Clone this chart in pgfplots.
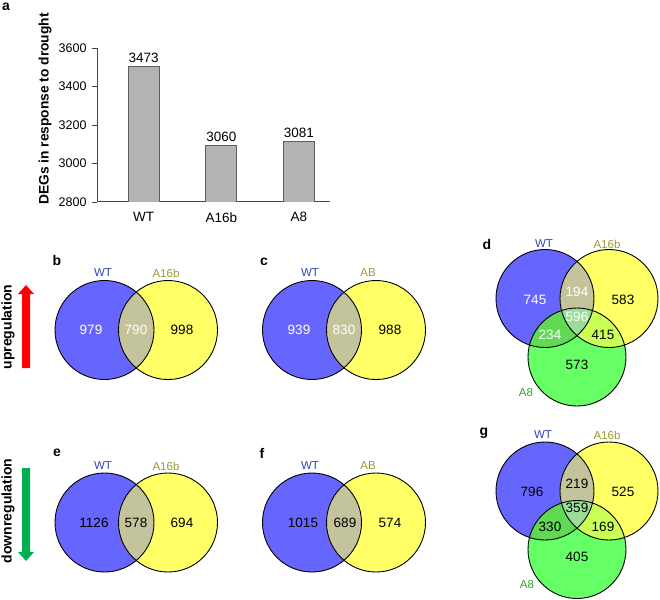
\documentclass[border=0pt]{standalone}
\usepackage{fontspec}
\setmainfont{Liberation Sans}
\usepackage{pgfplots}
\pgfplotsset{compat=1.18}

\definecolor{vb}{HTML}{6666FF}
\definecolor{vy}{HTML}{FFFF66}
\definecolor{vg}{HTML}{66FF66}
\definecolor{vby}{HTML}{C4C49C}
\definecolor{vbg}{HTML}{60DA55}
\definecolor{vyg}{HTML}{CCFF55}
\definecolor{vbyg}{HTML}{99DD99}
\definecolor{lwt}{HTML}{2E45B8}
\definecolor{lab}{HTML}{9A9A2E}
\definecolor{la8}{HTML}{2EA02E}
\definecolor{barfill}{HTML}{B3B3B3}
\definecolor{baredge}{HTML}{5E5E5E}
\definecolor{axgray}{HTML}{454545}
\definecolor{upred}{HTML}{FF0000}
\definecolor{dngreen}{HTML}{00B050}

\tikzset{
  num/.style={font=\fontsize{13.5bp}{15bp}\selectfont},
  setlab/.style={font=\fontsize{11.5bp}{13bp}\selectfont},
  panel/.style={font=\bfseries\fontsize{14bp}{16bp}\selectfont},
  ring/.style={draw=black, line width=0.9bp},
}

% two-set diagram: blue x, yellow x, y
\newcommand{\venntwo}[3]{%
  \fill[vb] (axis cs:#1,#3) circle[radius=49.5bp];
  \fill[vy] (axis cs:#2,#3) circle[radius=49.5bp];
  \begin{scope}
    \clip (axis cs:#1,#3) circle[radius=49.5bp];
    \fill[vby] (axis cs:#2,#3) circle[radius=49.5bp];
  \end{scope}
  \draw[ring] (axis cs:#1,#3) circle[radius=49.5bp];
  \draw[ring] (axis cs:#2,#3) circle[radius=49.5bp];
}
% three-set diagram, shifted down by #1
\newcommand{\vennthree}[1]{%
  \fill[vb] (axis cs:545,298.5+#1) circle[radius=49bp];
  \fill[vy] (axis cs:609,298.5+#1) circle[radius=49bp];
  \fill[vg] (axis cs:577,357+#1) circle[radius=49bp];
  \begin{scope}
    \clip (axis cs:545,298.5+#1) circle[radius=49bp];
    \fill[vby] (axis cs:609,298.5+#1) circle[radius=49bp];
    \fill[vbg] (axis cs:577,357+#1) circle[radius=49bp];
  \end{scope}
  \begin{scope}
    \clip (axis cs:609,298.5+#1) circle[radius=49bp];
    \fill[vyg] (axis cs:577,357+#1) circle[radius=49bp];
  \end{scope}
  \begin{scope}
    \clip (axis cs:545,298.5+#1) circle[radius=49bp];
    \clip (axis cs:609,298.5+#1) circle[radius=49bp];
    \fill[vbyg] (axis cs:577,357+#1) circle[radius=49bp];
  \end{scope}
  \draw[ring] (axis cs:545,298.5+#1) circle[radius=49bp];
  \draw[ring] (axis cs:609,298.5+#1) circle[radius=49bp];
  \draw[ring] (axis cs:577,357+#1) circle[radius=49bp];
}

\begin{document}
\begin{tikzpicture}
\useasboundingbox (0,0) rectangle (660bp,600bp);

% panel a: bar chart
\begin{axis}[
  at={(97bp,398bp)}, anchor=south west,
  scale only axis, width=233bp, height=154bp,
  ybar, bar width=31bp,
  xmin=-0.6, xmax=2.4, ymin=2800, ymax=3600,
  ytick={2800,3000,...,3600},
  xtick={0,1,2}, xticklabels={WT,A16b,A8},
  axis x line*=bottom, axis y line*=left,
  axis line style={axgray, line width=1bp},
  tick align=outside,
  major tick length=5bp,
  ytick style={axgray, line width=0.8bp},
  xtick style={draw=none},
  /pgf/number format/.cd, 1000 sep={}, assume math mode=true, /pgfplots/.cd,
  yticklabel style={font=\fontsize{12.5bp}{14bp}\selectfont, xshift=-2bp},
  xticklabel style={font=\fontsize{13.5bp}{15bp}\selectfont, yshift=-2bp},
  nodes near coords style={font=\fontsize{13.5bp}{15bp}\selectfont},
]
\addplot[fill=barfill, draw=baredge, line width=0.8bp,
  point meta=explicit symbolic, nodes near coords]
  coordinates {(0,3505)[3473] (1,3092)[3060] (2,3113)[3081]};
\end{axis}

% panels b--g: overlay in pixel units
\begin{axis}[
  at={(0,0)}, anchor=south west,
  scale only axis, width=660bp, height=600bp,
  xmin=0, xmax=660, ymin=0, ymax=600, y dir=reverse,
  hide axis, clip=false,
]
\pgfplotsextra{
  \node[panel] at (axis cs:6,7) {a};
  \node[font=\bfseries\fontsize{13.8bp}{15bp}\selectfont, rotate=90] at (axis cs:45,109) {DEGs in response to drought};

  % arrows
  \fill[upred] (axis cs:26,285) -- (axis cs:34,294) -- (axis cs:30,294) -- (axis cs:30,368)
     -- (axis cs:22,368) -- (axis cs:22,294) -- (axis cs:18,294) -- cycle;
  \fill[dngreen] (axis cs:26,561) -- (axis cs:34,552) -- (axis cs:30,552) -- (axis cs:30,468)
     -- (axis cs:22,468) -- (axis cs:22,552) -- (axis cs:18,552) -- cycle;
  \node[font=\bfseries\fontsize{14bp}{16bp}\selectfont, rotate=90] at (axis cs:8,327) {upregulation};
  \node[font=\bfseries\fontsize{14bp}{16bp}\selectfont, rotate=90] at (axis cs:8,511) {downregulation};

  % b
  \venntwo{104.5}{168}{330}
  \node[panel] at (axis cs:57,260) {b};
  \node[setlab, lwt] at (axis cs:103,273) {WT};
  \node[setlab, lab] at (axis cs:166,273) {A16b};
  \node[num, white] at (axis cs:91,330) {979};
  \node[num, white] at (axis cs:136,330) {790};
  \node[num] at (axis cs:182,330) {998};

  % c
  \venntwo{312}{376}{330}
  \node[panel] at (axis cs:264,262) {c};
  \node[setlab, lwt] at (axis cs:310,273) {WT};
  \node[setlab, lab] at (axis cs:368,273) {AB};
  \node[num, white] at (axis cs:299,330) {939};
  \node[num, white] at (axis cs:344,330) {830};
  \node[num] at (axis cs:390,330) {988};

  % d
  \vennthree{0}
  \node[panel] at (axis cs:487,244) {d};
  \node[setlab, lwt] at (axis cs:544,244) {WT};
  \node[setlab, lab] at (axis cs:607,244) {A16b};
  \node[setlab, la8] at (axis cs:526,393) {A8};
  \node[num, white] at (axis cs:535,300) {745};
  \node[num, white] at (axis cs:577,292) {194};
  \node[num] at (axis cs:623,300) {583};
  \node[num, white] at (axis cs:577,317) {596};
  \node[num, white] at (axis cs:550,335) {234};
  \node[num] at (axis cs:603,335) {415};
  \node[num] at (axis cs:577,365) {573};

  % e
  \venntwo{104.5}{168}{522.5}
  \node[panel] at (axis cs:57,453) {e};
  \node[setlab, lwt] at (axis cs:103,466) {WT};
  \node[setlab, lab] at (axis cs:166,466) {A16b};
  \node[num] at (axis cs:94,523) {1126};
  \node[num] at (axis cs:136,523) {578};
  \node[num] at (axis cs:182,523) {694};

  % f
  \venntwo{312}{376}{522.5}
  \node[panel] at (axis cs:262,453) {f};
  \node[setlab, lwt] at (axis cs:310,466) {WT};
  \node[setlab, lab] at (axis cs:368,466) {AB};
  \node[num] at (axis cs:303,523) {1015};
  \node[num] at (axis cs:345,523) {689};
  \node[num] at (axis cs:390,523) {574};

  % g
  \vennthree{192.5}
  \node[panel] at (axis cs:484,433) {g};
  \node[setlab, lwt] at (axis cs:543,435) {WT};
  \node[setlab, lab] at (axis cs:607,435) {A16b};
  \node[setlab, la8] at (axis cs:527,585) {A8};
  \node[num] at (axis cs:532,492) {796};
  \node[num] at (axis cs:577,484) {219};
  \node[num] at (axis cs:623,492) {525};
  \node[num] at (axis cs:577,508) {359};
  \node[num] at (axis cs:550,527) {330};
  \node[num] at (axis cs:603,527) {169};
  \node[num] at (axis cs:577,557) {405};
}
\end{axis}
\end{tikzpicture}
\end{document}
